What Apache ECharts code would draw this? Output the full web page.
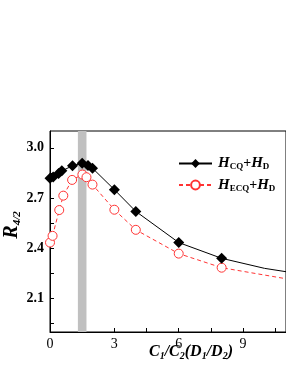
<!DOCTYPE html>
<html><head><meta charset="utf-8">
<script src="https://cdn.jsdelivr.net/npm/echarts@6/dist/echarts.min.js"></script>
<style>html,body{margin:0;padding:0;background:#fff}#c{width:286px;height:370px}</style>
</head><body><div id="c"></div>
<script>
// data
var cqX = [0, 0.15, 0.4, 0.55, 1.05, 1.5, 1.77, 1.98, 3, 4, 6, 8, 10, 11];
var cqY = [2.818, 2.826, 2.846, 2.862, 2.892, 2.908, 2.894, 2.878, 2.75, 2.62, 2.434, 2.34, 2.28, 2.26];
var cqMarked = 12; // first 12 points carry markers, the rest is the curve tail
var ecqX = [0, 0.12, 0.43, 0.62, 1.03, 1.51, 1.7, 1.98, 3, 4, 6, 8, 10, 11];
var ecqY = [2.434, 2.474, 2.628, 2.714, 2.808, 2.84, 2.824, 2.78, 2.63, 2.51, 2.368, 2.284, 2.24, 2.218];
var ecqMarked = 12;
var bandRange = [1.3, 1.7];
var xTicks = [0, 1.5, 3, 4.5, 6, 7.5, 9, 10.5];
var xLabels = [0, 3, 6, 9];
var yTicks = [1.95, 2.1, 2.25, 2.4, 2.55, 2.7, 2.85, 3.0];
var yLabels = [2.1, 2.4, 2.7, 3.0];

function build(xs, ys, nMarked) {
  return xs.map(function (x, i) {
    var d = { value: [x, ys[i]] };
    if (i >= nMarked) d.symbol = 'none';
    return d;
  });
}
var FONT = 'Liberation Serif';
var legendRich = {
  h: { fontFamily: FONT, fontWeight: 'bold', fontStyle: 'italic', fontSize: 15, color: '#000' },
  s: { fontFamily: FONT, fontWeight: 'bold', fontSize: 9, color: '#000', padding: [7, 0, 0, 0] },
  p: { fontFamily: FONT, fontWeight: 'bold', fontSize: 14, color: '#000' }
};
var chart = echarts.init(document.getElementById('c'));
chart.setOption({
  animation: false,
  grid: { left: 50, right: -2, top: 131, bottom: 38, show: true, borderColor: '#000', borderWidth: 1 },
  legend: {
    orient: 'vertical', left: 178, top: 156, padding: 0, itemWidth: 33, itemHeight: 11, itemGap: 6,
    textStyle: { rich: legendRich, padding: [0, 0, 0, 1] },
    formatter: function (n) {
      return n === 'CQ' ? '{h|H}{s|CQ}{p|+}{h|H}{s|D}' : '{h|H}{s|ECQ}{p|+}{h|H}{s|D}';
    },
    data: ['CQ', 'ECQ']
  },
  xAxis: {
    type: 'value', min: 0, max: 11,
    axisLine: { lineStyle: { color: '#000', width: 1 } },
    axisTick: { inside: true, length: 4, lineStyle: { color: '#000' }, customValues: xTicks },
    axisLabel: { customValues: xLabels, color: '#000', fontFamily: FONT, fontSize: 14, margin: 5 },
    splitLine: { show: false }
  },
  yAxis: {
    type: 'value', min: 1.9, max: 3.1,
    axisLine: { show: true, lineStyle: { color: '#000', width: 1 } },
    axisTick: { show: true, inside: true, length: 4, lineStyle: { color: '#000' }, customValues: yTicks },
    axisLabel: { customValues: yLabels, color: '#000', fontFamily: FONT, fontWeight: 'bold', fontSize: 14, margin: 6,
      formatter: function (v) { return v.toFixed(1); } },
    splitLine: { show: false }
  },
  series: [
    {
      name: 'CQ', type: 'line', data: build(cqX, cqY, cqMarked),
      symbol: 'diamond', symbolSize: 11, showAllSymbol: true,
      itemStyle: { color: '#000' }, lineStyle: { color: '#000', width: 1 },
      z: 3,
      markArea: { silent: true, itemStyle: { color: '#c0c0c0' }, data: [[{ xAxis: bandRange[0] }, { xAxis: bandRange[1] }]] }
    },
    {
      name: 'ECQ', type: 'line', data: build(ecqX, ecqY, ecqMarked),
      symbol: 'circle', symbolSize: 9, showAllSymbol: true,
      itemStyle: { color: '#fff', borderColor: '#ff3333', borderWidth: 1 },
      lineStyle: { color: '#ff3333', width: 1, type: [4, 3] },
      z: 2
    }
  ],
  graphic: [
    {
      type: 'text', x: 12, y: 225, rotation: Math.PI / 2,
      style: {
        text: '{r|R}{s|4/2}', align: 'center', verticalAlign: 'middle',
        rich: {
          r: { fontFamily: FONT, fontWeight: 'bold', fontStyle: 'italic', fontSize: 20, color: '#000' },
          s: { fontFamily: FONT, fontWeight: 'bold', fontStyle: 'italic', fontSize: 11, color: '#000', padding: [10, 0, 0, 0] }
        }
      }
    },
    {
      type: 'text', x: 191, y: 352,
      style: {
        text: '{c|C}{s|1}{c|/C}{s|2}{c|(D}{s|1}{c|/D}{s|2}{c|)}', align: 'center', verticalAlign: 'middle',
        rich: {
          c: { fontFamily: FONT, fontWeight: 'bold', fontStyle: 'italic', fontSize: 16, color: '#000' },
          s: { fontFamily: FONT, fontWeight: 'bold', fontStyle: 'italic', fontSize: 10, color: '#000', padding: [8, 0, 0, 0] }
        }
      }
    }
  ]
});
</script></body></html>
